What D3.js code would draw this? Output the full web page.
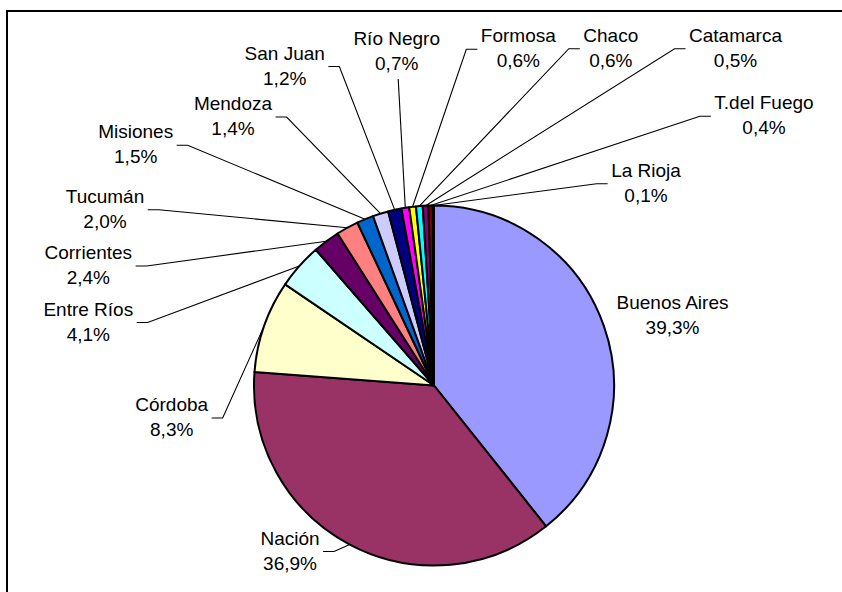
<!DOCTYPE html>
<html>
<head>
<meta charset="utf-8">
<script src="https://cdn.jsdelivr.net/npm/d3@7"></script>
<style>
  html, body { margin: 0; padding: 0; background: #fff; }
  svg { display: block; }
  text { font-family: "Liberation Sans", Arial, sans-serif; font-size: 19px; fill: #000; }
</style>
</head>
<body>
<svg id="chart" width="842" height="592"></svg>
<script>
// ---- data ----
const categories = ["Buenos Aires", "Nación", "Córdoba", "Entre Ríos", "Corrientes", "Tucumán",
  "Misiones", "Mendoza", "San Juan", "Río Negro", "Formosa", "Chaco", "Catamarca", "T.del Fuego", "La Rioja"];
const shares = [39.3, 36.9, 8.3, 4.1, 2.4, 2.0, 1.5, 1.4, 1.2, 0.7, 0.6, 0.6, 0.5, 0.4, 0.1];
const sliceColors = ["#9999FF", "#993366", "#FFFFCC", "#CCFFFF", "#660066", "#FF8080",
  "#0066CC", "#CCCCFF", "#000080", "#FF00FF", "#FFFF00", "#00FFFF", "#800080", "#800000", "#008080"];

// ---- layout (label centre x, first-line baseline y, leader style) ----
const labelLayout = [
  [672.5, 309, "none"],
  [290, 544.5, "side"],
  [171.7, 411, "side"],
  [88.3, 315.5, "side"],
  [88.3, 259, "side"],
  [105, 202.7, "side"],
  [135.7, 138.3, "side"],
  [233, 110, "side"],
  [284.7, 59.5, "side"],
  [396.7, 45, "below"],
  [518.3, 42.3, "side"],
  [610.8, 41.7, "side"],
  [735.5, 41.7, "side"],
  [764, 109.3, "side"],
  [646, 176.7, "side"]
];

const W = 842, H = 592;
const cx = 434, cy = 385.5, R = 180;
const lineGap = 25;

const svg = d3.select("#chart");

// frame
svg.append("rect")
  .attr("x", 7).attr("y", 11).attr("width", 860).attr("height", 620)
  .attr("fill", "none").attr("stroke", "#000").attr("stroke-width", 2);

const locale = d3.formatLocale({decimal: ",", thousands: ".", grouping: [3], currency: ["$", ""]});
const fmt = locale.format(".1f");

const data = categories.map((c, i) => ({name: c, value: shares[i], color: sliceColors[i], layout: labelLayout[i]}));

const pie = d3.pie().sort(null).value(d => d.value).startAngle(0).endAngle(2 * Math.PI);
const arcs = pie(data);
const arcGen = d3.arc().innerRadius(0).outerRadius(R);

const g = svg.append("g").attr("transform", `translate(${cx},${cy})`);
g.selectAll("path.slice")
  .data(arcs)
  .join("path")
  .attr("class", "slice")
  .attr("d", arcGen)
  .attr("fill", d => d.data.color)
  .attr("stroke", "#000")
  .attr("stroke-width", 2)
  .attr("stroke-linejoin", "round");

// labels + leader lines
const leaderLayer = svg.append("g");
const labelLayer = svg.append("g");

arcs.forEach(a => {
  const [lx, ly, mode] = a.data.layout;
  const t1 = labelLayer.append("text").attr("x", lx).attr("y", ly).attr("text-anchor", "middle").text(a.data.name);
  const t2 = labelLayer.append("text").attr("x", lx).attr("y", ly + lineGap).attr("text-anchor", "middle").text(fmt(a.data.value) + "%");
  const w = Math.max(t1.node().getComputedTextLength(), t2.node().getComputedTextLength());
  const mid = (a.startAngle + a.endAngle) / 2;
  const px = cx + R * Math.sin(mid);
  const py = cy - R * Math.cos(mid);
  if (mode === "none") return;
  let pts;
  if (mode === "below") {
    pts = [[lx + 1.5, ly + lineGap + 9], [px, py]];
  } else {
    const left = lx < px;
    const sx = left ? lx + w / 2 + 3.5 : lx - w / 2 - 3.5;
    const sy = ly + 7;
    const hx = left ? sx + 11 : sx - 11;
    pts = [[sx, sy], [hx, sy], [px, py]];
  }
  leaderLayer.append("path")
    .attr("d", d3.line()(pts))
    .attr("fill", "none")
    .attr("stroke", "#000")
    .attr("stroke-width", 1.1);
});
</script>
</body>
</html>
